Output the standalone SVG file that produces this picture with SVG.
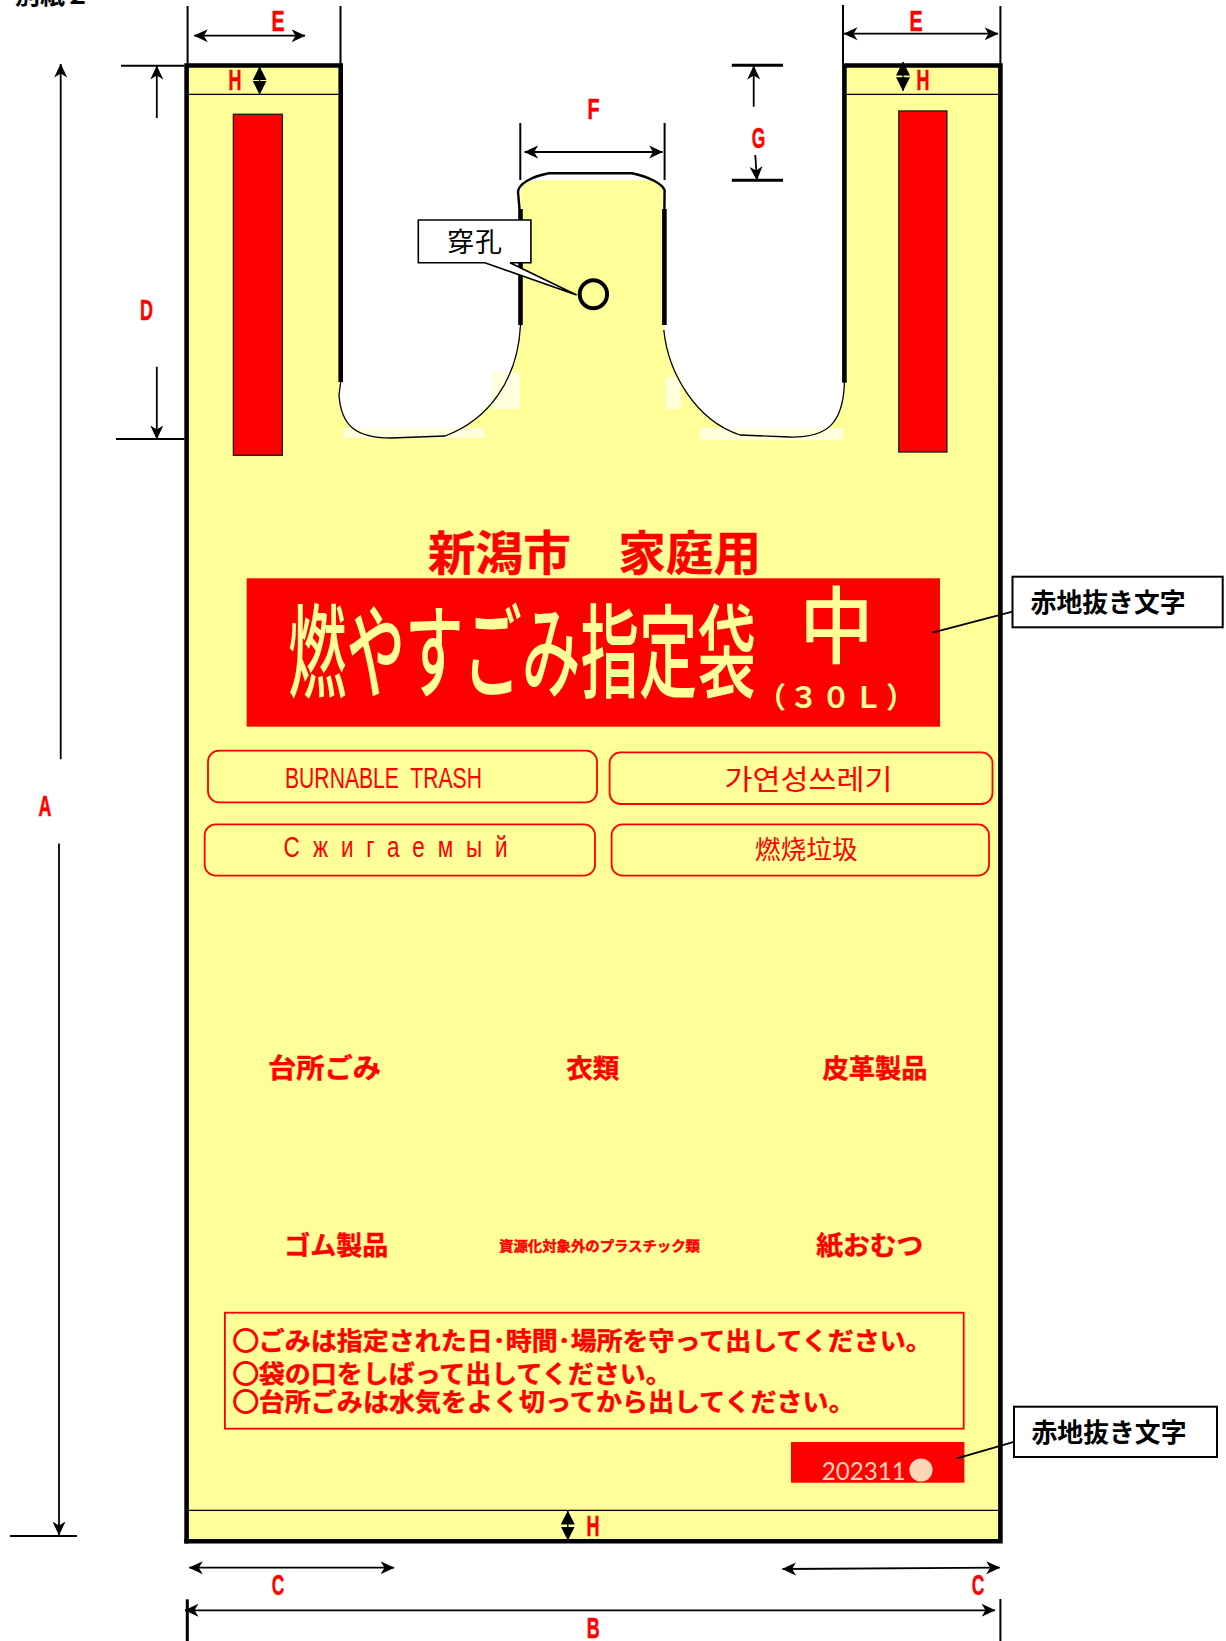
<svg xmlns="http://www.w3.org/2000/svg" width="1226" height="1641" viewBox="0 0 1226 1641">
<style>
text{font-family:"Noto Sans CJK JP","Liberation Sans",sans-serif;fill:#f00}
.dim{font-family:"Liberation Sans",sans-serif;font-weight:700;font-size:29px;text-anchor:middle;stroke:#f00;stroke-width:.5}
.lab{font-weight:700;stroke:#f00;stroke-width:.4}
.blk{font-weight:700;fill:#000}
.cream{fill:#ffff99}
.thin{stroke:#000;stroke-width:1.3;fill:none}
.lead{stroke:#000;stroke-width:1.8;fill:none}
.thick{stroke:#000;stroke-width:4.6;fill:none}
.ext{stroke:#000;stroke-width:2;fill:none}
.tab{stroke:#000;stroke-width:2.4;fill:none}
.arr{stroke:#000;stroke-width:1.8;fill:none;marker-start:url(#st);marker-end:url(#st)}
.arr1{stroke:#000;stroke-width:1.8;fill:none;marker-end:url(#st)}
.harr{stroke:#000;stroke-width:1.3;fill:none;marker-start:url(#tri);marker-end:url(#tri)}
.box{fill:none;stroke:#f00;stroke-width:1.8}
.bar{fill:#f00;stroke:#222;stroke-width:1.4}
.note{fill:#fff;stroke:#000;stroke-width:2}
.ring{stroke:#f00;stroke-width:1.6}
</style>
<defs>
<marker id="st" markerUnits="userSpaceOnUse" markerWidth="14" markerHeight="14" refX="13.5" refY="7" orient="auto-start-reverse" viewBox="0 0 14 14"><path d="M14,7 L0,0.5 L4,7 L0,13.5 Z" fill="#000"/></marker>
<marker id="tri" markerUnits="userSpaceOnUse" markerWidth="14" markerHeight="14" refX="13.5" refY="7" orient="auto-start-reverse" viewBox="0 0 14 14"><path d="M14,7 L0,0 L0,14 Z" fill="#000"/></marker>
</defs>

<text id="page-label" class="blk" x="15" y="4" font-size="25" textLength="75" lengthAdjust="spacingAndGlyphs">別紙２</text>

<g id="bag">
<path d="M186.6,65.5 H340.7 V382 L339,395 C341,425 355,438 391,438 L445,436 C488,420 518,380 520.5,325 V191.5 C520,186 526,181 540,180 H650 C658,181 664,186 664.5,190 V325 C668,372 695,420 740,435 L789,437 C826,438 843,425 844.4,383 V65.5 H1000.4 V1541.3 H186.6 Z" fill="#ffff99"/>
<g fill="#ffffdc">
<rect x="343" y="428" width="142" height="10"/>
<rect x="492" y="372" width="28" height="37"/>
<rect x="666" y="377" width="15" height="32"/>
<rect x="700" y="428" width="143" height="12"/>
</g>
<path class="thick" d="M186.6,1543.6 V65.5 H340.7 V382"/>
<path class="thick" d="M844.4,382.7 V65.5 H1000.4 V1541.3 H184.3"/>
<path class="thin" d="M340.7,382 L339,395 C341,425 355,438 391,438 L445,436 C488,420 518,380 520.5,325"/>
<path class="thin" d="M663.8,330 C668,372 695,420 740,435 L789,437 C826,438 843,425 844.4,383"/>
<path class="tab" d="M519.5,209 L518,191.5 C519,184 530,177 549,173.3 H632 C650,177 662,184 664.6,190 L664.4,209"/>
<path class="thick" d="M520.5,209 V325 M664.4,209 V325"/>
<path class="thin" d="M189,94.3 H338.5 M847,94.3 H998 M189,1510.3 H998"/>
<rect class="bar" x="233.4" y="114.3" width="48.9" height="341"/>
<rect class="bar" x="898.8" y="111" width="48.1" height="341"/>
<ellipse cx="593.4" cy="294.3" rx="13.7" ry="14" fill="none" stroke="#000" stroke-width="4"/>
</g>

<g id="dimension-labels">
<text class="dim" transform="translate(278,30.5) scale(.68,1)">E</text>
<text class="dim" transform="translate(916,30.5) scale(.68,1)">E</text>
<text class="dim" transform="translate(235,90) scale(.62,1)">H</text>
<text class="dim" transform="translate(923,90) scale(.62,1)">H</text>
<text class="dim" transform="translate(593,1536) scale(.62,1)">H</text>
<text class="dim" transform="translate(146.6,320) scale(.62,1)">D</text>
<text class="dim" transform="translate(593.4,118.5) scale(.68,1)">F</text>
<text class="dim" transform="translate(758.4,147.5) scale(.6,1)">G</text>
<text class="dim" transform="translate(45,816) scale(.62,1)">A</text>
<text class="dim" transform="translate(278,1595) scale(.6,1)">C</text>
<text class="dim" transform="translate(978,1595) scale(.6,1)">C</text>
<text class="dim" transform="translate(593.3,1638) scale(.62,1)">B</text>
</g>

<g id="callout-hole">
<path d="M418.3,220 H530.9 V262.7 H510 L576.6,295 L484.8,262.7 H418.3 Z" fill="#fff" stroke="#000" stroke-width="1.6"/>
<text x="447" y="252" font-size="27" style="fill:#000" textLength="55">穿孔</text>
</g>

<g id="title">
<text class="lab" x="428" y="570" font-size="47" textLength="333" lengthAdjust="spacingAndGlyphs">新潟市　家庭用</text>
</g>

<g id="banner">
<rect x="246.7" y="578.3" width="693.3" height="148.4" fill="#f00"/>
<text class="cream" x="288" y="690" font-size="102" font-weight="500" textLength="468" lengthAdjust="spacingAndGlyphs">燃やすごみ指定袋</text>
<text class="cream" x="799.5" y="657" font-size="84" font-weight="500" textLength="74" lengthAdjust="spacingAndGlyphs">中</text>
<text class="cream" x="757" y="708" font-size="29" font-weight="700" textLength="158" lengthAdjust="spacing">（３０Ｌ）</text>
</g>

<g id="lang-burnable">
<rect class="box" x="208" y="750.7" width="389" height="51.6" rx="11"/>
<text x="285" y="788" font-size="30" style="font-family:'Liberation Sans',sans-serif;white-space:pre" textLength="197" lengthAdjust="spacingAndGlyphs">BURNABLE  TRASH</text>
</g>
<g id="lang-korean">
<rect class="box" x="609.6" y="752.3" width="382.9" height="51.7" rx="11"/>
<text x="724.5" y="790" font-size="28" style="font-family:'Noto Sans CJK KR',sans-serif" textLength="168" lengthAdjust="spacingAndGlyphs">가연성쓰레기</text>
</g>
<g id="lang-russian">
<rect class="box" x="204.7" y="824.3" width="390.3" height="51.4" rx="11"/>
<text transform="translate(283.4,857) scale(.75,1)" font-size="30" style="font-family:'Liberation Sans',sans-serif" textLength="299" lengthAdjust="spacing">Сжигаемый</text>
</g>
<g id="lang-chinese">
<rect class="box" x="611.6" y="824.3" width="377.4" height="51.4" rx="11"/>
<text x="754.7" y="859" font-size="26" style="font-family:'Noto Sans CJK SC',sans-serif" textLength="103" lengthAdjust="spacingAndGlyphs">燃烧垃圾</text>
</g>

<g id="items">
<text class="lab" x="267.9" y="1078" font-size="27" textLength="113" lengthAdjust="spacingAndGlyphs">台所ごみ</text>
<text class="lab" x="566.3" y="1078" font-size="26" textLength="53" lengthAdjust="spacingAndGlyphs">衣類</text>
<text class="lab" x="822.5" y="1078" font-size="26" textLength="105" lengthAdjust="spacingAndGlyphs">皮革製品</text>
<text class="lab" x="284.2" y="1255" font-size="26" textLength="104" lengthAdjust="spacingAndGlyphs">ゴム製品</text>
<text class="lab" x="499" y="1250.5" font-size="14" textLength="201" lengthAdjust="spacingAndGlyphs">資源化対象外のプラスチック類</text>
<text class="lab" x="816.3" y="1255" font-size="26" textLength="107" lengthAdjust="spacingAndGlyphs">紙おむつ</text>
</g>

<g id="notes">
<rect x="224.9" y="1312.7" width="738.8" height="116" fill="none" stroke="#f00" stroke-width="1.8"/>
<text class="lab" x="232.7" y="1350" font-size="25" textLength="699" lengthAdjust="spacingAndGlyphs"><tspan class="ring">○</tspan>ごみは指定された日･時間･場所を守って出してください。</text>
<text class="lab" x="232.7" y="1383" font-size="25" textLength="439" lengthAdjust="spacingAndGlyphs"><tspan class="ring">○</tspan>袋の口をしばって出してください。</text>
<text class="lab" x="232.7" y="1411" font-size="25" textLength="622" lengthAdjust="spacingAndGlyphs"><tspan class="ring">○</tspan>台所ごみは水気をよく切ってから出してください。</text>
</g>

<g id="lot-code">
<rect x="791" y="1442" width="173.4" height="40.7" fill="#f00"/>
<text x="821.7" y="1480" font-size="25" style="font-family:Lato,sans-serif;fill:#fbd5b5" textLength="84" lengthAdjust="spacingAndGlyphs">202311</text>
<ellipse cx="921" cy="1470" rx="11.6" ry="11.6" fill="#fbd5b5"/>
</g>

<g id="callout-banner">
<rect class="note" x="1012.5" y="576.7" width="210.2" height="50.6"/>
<text class="blk" x="1030.6" y="612" font-size="25.6" textLength="155" lengthAdjust="spacingAndGlyphs">赤地抜き文字</text>
</g>
<g id="callout-code">
<rect class="note" x="1014" y="1406.7" width="203" height="50.3"/>
<text class="blk" x="1031.5" y="1441.5" font-size="25.6" textLength="155" lengthAdjust="spacingAndGlyphs">赤地抜き文字</text>
</g>

<g id="connectors">
<path class="ext" d="M187.6,6 V64 M340.5,6 V64 M843,5 V64 M1000.4,6 V64 M520.3,123 V180 M664.6,123 V180 M1000.4,1599 V1641"/>
<path class="ext" d="M121,65.7 H184.5 M116,439 H184.5 M10,1536 H77"/>
<path d="M731.8,65.3 H783 M731.8,180.3 H783" stroke="#000" stroke-width="3"/>
<path d="M187.3,1599.3 V1641" stroke="#000" stroke-width="3"/>
<path class="arr" d="M194.3,35.7 H305"/>
<path class="arr" d="M844,33.7 H998"/>
<path class="arr" d="M524.6,152 H662.6"/>
<path class="arr1" d="M156.8,118 V66"/>
<path class="arr1" d="M156.8,366.7 V439"/>
<path class="arr1" d="M60.7,759.3 V64"/>
<path class="arr1" d="M59,843.5 V1535"/>
<path class="arr1" d="M753.7,106.7 V66"/>
<path class="arr1" d="M755.3,155 L756.9,180"/>
<path class="arr" d="M189.3,1567.7 H394"/>
<path class="arr" d="M782.5,1569 L999.7,1567.7"/>
<path class="arr" d="M185,1610.3 H995"/>
<path class="harr" d="M259.6,66.7 V94.3"/>
<path class="harr" d="M903,62 V90.7"/>
<path class="harr" d="M567.8,1511 V1540"/>
<path class="lead" d="M1012.5,611.7 L932.5,632.7"/>
<path class="lead" d="M1014.8,1441.7 L957,1458.3"/>
</g>
</svg>
